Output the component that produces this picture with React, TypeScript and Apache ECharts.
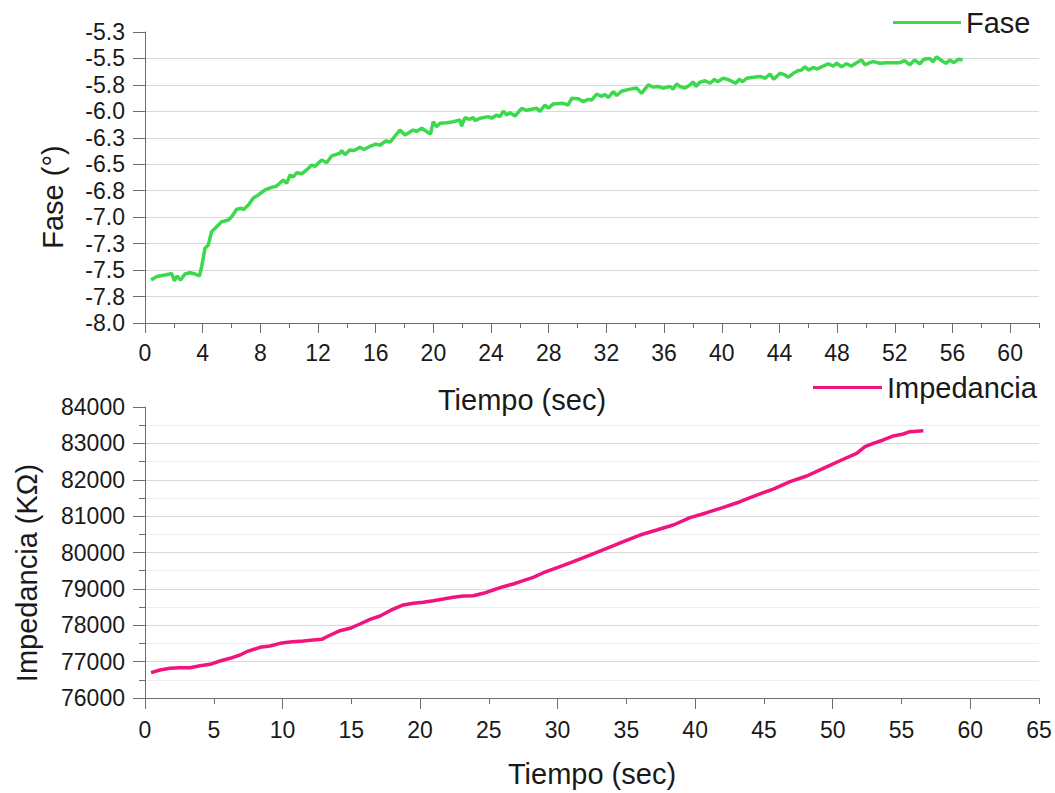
import React, { useEffect, useRef } from "react";
import * as echarts from "echarts";

const faseTime = [
  0.42, 0.81, 1.39, 1.73, 1.85, 2.03, 2.24, 2.47, 2.77, 3.12, 3.47, 3.77, 3.93, 4.16, 4.39, 4.62, 4.97,
  5.32, 5.78, 6.01, 6.36, 6.7, 6.82, 7.17, 7.51, 7.86, 8.32, 8.79, 9.13, 9.59, 9.82, 10.06, 10.28, 10.52,
  10.86, 11.21, 11.56, 11.79, 12.25, 12.6, 12.95, 13.52, 13.64, 13.87, 14.2, 14.5, 14.9, 15.2, 15.6, 16.0,
  16.3, 16.7, 17.0, 17.3, 17.68, 18.03, 18.6, 18.84, 19.19, 19.53, 19.8, 19.99, 20.22, 20.46, 20.92, 21.38,
  21.84, 21.96, 22.19, 22.53, 22.76, 22.88, 23.23, 23.81, 24.04, 24.39, 24.62, 24.85, 25.08, 25.31, 25.66,
  26.12, 26.47, 26.81, 27.16, 27.39, 27.74, 27.97, 28.32, 29.0, 29.35, 29.59, 30.05, 30.4, 30.74, 30.97,
  31.32, 31.66, 31.9, 32.13, 32.48, 32.71, 33.05, 33.63, 34.09, 34.44, 34.9, 35.25, 35.59, 35.94, 36.4,
  36.63, 36.87, 37.1, 37.45, 37.79, 38.02, 38.2, 38.48, 38.84, 39.19, 39.5, 39.7, 40.1, 40.45, 40.99, 41.2,
  41.45, 41.73, 42.19, 42.65, 43.0, 43.34, 43.6, 44.04, 44.38, 44.62, 44.96, 45.3, 45.53, 45.77, 46.0,
  46.35, 46.58, 47.04, 47.39, 47.73, 47.96, 48.31, 48.65, 49.0, 49.47, 49.7, 49.93, 50.27, 50.5, 50.97,
  51.43, 51.89, 52.35, 52.68, 53.04, 53.38, 53.73, 54.02, 54.42, 54.65, 54.9, 55.24, 55.54, 55.82, 56.1,
  56.4, 56.7,
];
const faseValue = [
  -7.594, -7.56, -7.546, -7.537, -7.53, -7.6, -7.556, -7.594, -7.537, -7.525, -7.537, -7.556, -7.468,
  -7.294, -7.263, -7.137, -7.09, -7.043, -7.027, -6.995, -6.925, -6.916, -6.93, -6.885, -6.82, -6.79,
  -6.743, -6.718, -6.705, -6.649, -6.68, -6.6, -6.62, -6.58, -6.59, -6.554, -6.507, -6.52, -6.46, -6.485,
  -6.42, -6.396, -6.37, -6.41, -6.365, -6.37, -6.34, -6.36, -6.33, -6.31, -6.32, -6.28, -6.29, -6.24,
  -6.176, -6.224, -6.176, -6.19, -6.16, -6.19, -6.214, -6.098, -6.145, -6.113, -6.107, -6.098, -6.082,
  -6.14, -6.06, -6.075, -6.057, -6.088, -6.065, -6.05, -6.065, -6.034, -6.05, -5.997, -6.034, -6.013,
  -6.044, -5.971, -5.99, -5.98, -5.97, -6.0, -5.94, -5.97, -5.93, -5.924, -5.94, -5.877, -5.88, -5.908,
  -5.887, -5.893, -5.836, -5.86, -5.84, -5.87, -5.814, -5.85, -5.81, -5.79, -5.78, -5.83, -5.75, -5.77,
  -5.765, -5.78, -5.765, -5.79, -5.74, -5.765, -5.78, -5.75, -5.72, -5.765, -5.725, -5.71, -5.735,
  -5.697, -5.72, -5.687, -5.7, -5.735, -5.697, -5.72, -5.687, -5.677, -5.67, -5.687, -5.647, -5.697,
  -5.64, -5.656, -5.677, -5.64, -5.615, -5.61, -5.578, -5.61, -5.585, -5.6, -5.572, -5.55, -5.572,
  -5.546, -5.578, -5.55, -5.572, -5.53, -5.515, -5.56, -5.54, -5.53, -5.546, -5.54, -5.54, -5.54, -5.52,
  -5.56, -5.515, -5.55, -5.508, -5.5, -5.53, -5.484, -5.52, -5.546, -5.515, -5.54, -5.508, -5.515,
];

const impTime = [
  0.44, 1.09, 1.82, 2.54, 3.27, 4.0, 4.73, 5.45, 6.18, 6.91, 7.39, 8.36, 9.09, 9.82, 10.54, 11.51, 12.24,
  12.85, 13.33, 14.18, 14.9, 15.63, 16.36, 17.09, 17.81, 18.3, 18.78, 19.51, 20.23, 20.96, 21.69, 22.42,
  23.14, 23.87, 24.6, 25.32, 26.05, 26.78, 27.5, 28.23, 28.96, 29.93, 31.14, 32.35, 33.57, 34.78, 35.99,
  37.2, 38.41, 39.63, 40.84, 42.05, 43.26, 44.47, 45.68, 46.9, 48.11, 49.32, 50.53, 51.74, 52.35, 52.95,
  53.68, 54.41, 55.13, 55.62, 56.59,
];
const impValue = [
  76696, 76770, 76816, 76833, 76833, 76888, 76926, 77017, 77091, 77182, 77273, 77393, 77430, 77503, 77540,
  77567, 77594, 77613, 77704, 77850, 77916, 78034, 78163, 78254, 78400, 78482, 78557, 78603, 78631, 78675,
  78721, 78768, 78804, 78812, 78878, 78969, 79060, 79134, 79225, 79318, 79444, 79580, 79747, 79931, 80115,
  80297, 80481, 80618, 80756, 80957, 81094, 81242, 81396, 81580, 81745, 81946, 82103, 82314, 82523, 82726,
  82908, 83002, 83093, 83203, 83257, 83321, 83348,
];

const topLabelValues = [0, 4, 8, 12, 16, 20, 24, 28, 32, 36, 40, 44, 48, 52, 56, 60];
const topLongTicks = topLabelValues;
const bottomLongTicks = [0, 10, 20, 30, 40, 50, 60];

const FONT = "'Liberation Sans', Arial, sans-serif";
const AXIS_COLOR = "#6e6e6e";
const TEXT_COLOR = "#1a1a1a";
const GREEN = "#3cd94c";
const MAGENTA = "#f0147c";

export default function App() {
  const ref = useRef<HTMLDivElement>(null);

  useEffect(() => {
    if (!ref.current) return;
    const chart = echarts.init(ref.current, undefined, { renderer: "svg" });

    const faseData = faseTime.map((t, i) => [t, faseValue[i]]);
    const impData = impTime.map((t, i) => [t, impValue[i]]);

    const labelStyle = { color: TEXT_COLOR, fontSize: 23, fontFamily: FONT };
    const axisLine = { show: true, lineStyle: { color: AXIS_COLOR, width: 1 } };
    const titleFont = `29px ${FONT}`;

    chart.setOption({
      animation: false,
      backgroundColor: "#ffffff",
      textStyle: { fontFamily: FONT },
      grid: [
        { left: 145, top: 32, width: 894, height: 291, containLabel: false },
        { left: 145, top: 407, width: 894, height: 291, containLabel: false },
      ],
      legend: [
        {
          data: ["Fase"],
          left: 888,
          top: 3,
          icon: "rect",
          itemWidth: 68,
          itemHeight: 3,
          textStyle: { fontSize: 29, color: TEXT_COLOR, fontFamily: FONT },
        },
        {
          data: ["Impedancia"],
          left: 808,
          top: 368,
          icon: "rect",
          itemWidth: 69,
          itemHeight: 3,
          textStyle: { fontSize: 29, color: TEXT_COLOR, fontFamily: FONT },
        },
      ],
      xAxis: [
        {
          type: "value",
          gridIndex: 0,
          position: "bottom",
          min: 0,
          max: 62,
          interval: 2,
          axisLine,
          axisTick: { show: true, length: 5, lineStyle: { color: AXIS_COLOR } },
          axisLabel: {
            ...labelStyle,
            margin: 18,
            formatter: (v: number) => (v % 4 === 0 && v <= 60 ? String(v) : ""),
          },
          splitLine: { show: false },
        },
        {
          type: "value",
          gridIndex: 0,
          position: "bottom",
          min: 0,
          max: 62,
          interval: 4,
          axisLine: { show: false },
          axisTick: { show: true, length: 10, customValues: topLongTicks, lineStyle: { color: AXIS_COLOR } },
          axisLabel: { show: false },
          splitLine: { show: false },
        },
        {
          type: "value",
          gridIndex: 1,
          position: "bottom",
          min: 0,
          max: 65,
          interval: 5,
          axisLine,
          axisTick: { show: true, length: 6, lineStyle: { color: AXIS_COLOR } },
          axisLabel: { ...labelStyle, margin: 20 },
          splitLine: { show: false },
        },
        {
          type: "value",
          gridIndex: 1,
          position: "bottom",
          min: 0,
          max: 65,
          interval: 10,
          axisLine: { show: false },
          axisTick: { show: true, length: 11, customValues: bottomLongTicks, lineStyle: { color: AXIS_COLOR } },
          axisLabel: { show: false },
          splitLine: { show: false },
        },
      ],
      yAxis: [
        {
          type: "value",
          gridIndex: 0,
          min: -8,
          max: -5.25,
          interval: 0.25,
          axisLine,
          axisTick: { show: true, length: 12, lineStyle: { color: AXIS_COLOR } },
          axisLabel: {
            ...labelStyle,
            margin: 20,
            formatter: (v: number) => v.toFixed(1),
          },
          splitLine: { show: true, showMaxLine: false, showMinLine: false, lineStyle: { color: "#d9d9d9", width: 1 } },
        },
        {
          type: "value",
          gridIndex: 1,
          min: 76000,
          max: 84000,
          interval: 1000,
          axisLine,
          axisTick: { show: true, length: 12, lineStyle: { color: AXIS_COLOR } },
          minorTick: { show: true, splitNumber: 2, length: 6, lineStyle: { color: AXIS_COLOR } },
          axisLabel: { ...labelStyle, margin: 20, formatter: (v: number) => String(v) },
          splitLine: { show: true, showMaxLine: false, showMinLine: false, lineStyle: { color: "#d9d9d9", width: 1 } },
          minorSplitLine: { show: true, lineStyle: { color: "#efefef", width: 1 } },
        },
      ],
      graphic: [
        {
          type: "text",
          x: 53,
          y: 197,
          rotation: Math.PI / 2,
          style: { text: "Fase (°)", fill: TEXT_COLOR, font: titleFont, textAlign: "center", textVerticalAlign: "middle" },
        },
        {
          type: "text",
          x: 522,
          y: 400,
          style: { text: "Tiempo (sec)", fill: TEXT_COLOR, font: titleFont, textAlign: "center", textVerticalAlign: "middle" },
        },
        {
          type: "text",
          x: 27,
          y: 573,
          rotation: Math.PI / 2,
          style: { text: "Impedancia (KΩ)", fill: TEXT_COLOR, font: titleFont, textAlign: "center", textVerticalAlign: "middle" },
        },
        {
          type: "text",
          x: 592,
          y: 774,
          style: { text: "Tiempo (sec)", fill: TEXT_COLOR, font: titleFont, textAlign: "center", textVerticalAlign: "middle" },
        },
      ],
      series: [
        {
          name: "Fase",
          type: "line",
          xAxisIndex: 0,
          yAxisIndex: 0,
          data: faseData,
          symbol: "none",
          showSymbol: false,
          lineStyle: { color: GREEN, width: 3.5 },
          itemStyle: { color: GREEN },
        },
        {
          name: "Impedancia",
          type: "line",
          xAxisIndex: 2,
          yAxisIndex: 1,
          data: impData,
          symbol: "none",
          showSymbol: false,
          lineStyle: { color: MAGENTA, width: 3.5 },
          itemStyle: { color: MAGENTA },
        },
      ],
    });

    return () => chart.dispose();
  }, []);

  return (
    <div
      ref={ref}
      style={{ position: "fixed", left: 0, top: 0, width: 1055, height: 793, background: "#fff" }}
    />
  );
}
